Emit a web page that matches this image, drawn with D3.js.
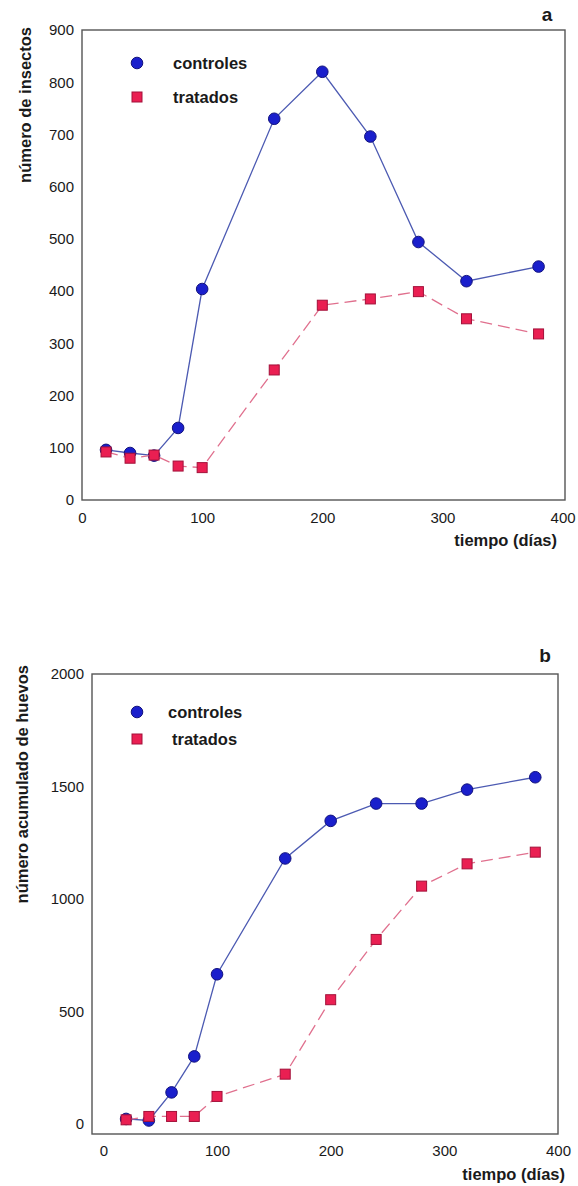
<!DOCTYPE html>
<html>
<head>
<meta charset="utf-8">
<script src="https://cdn.jsdelivr.net/npm/d3@7"></script>
<style>
  body { margin: 0; background: #fff; }
  svg text { font-family: "Liberation Sans", Arial, sans-serif; fill: #1a1a1a; }
</style>
</head>
<body>
<div id="chart"></div>
<script>
// days sampled (same for both panels)
var dias = [20, 40, 60, 80, 100, 160, 200, 240, 280, 320, 380];

// panel a: number of insects
var insectosControles = [96, 90, 85, 138, 404, 730, 820, 696, 494, 419, 447];
var insectosTratados = [92, 80, 86, 65, 62, 249, 373, 385, 399, 347, 318];

// panel b: cumulative number of eggs
var huevosControles = [22, 15, 140, 300, 665, 1180, 1347, 1424, 1424, 1486, 1541];
var huevosTratados = [18, 33, 33, 33, 122, 221, 552, 820, 1057, 1156, 1208];

var xTicks = [0, 100, 200, 300, 400];
var yTicksA = [0, 100, 200, 300, 400, 500, 600, 700, 800, 900];
var yTicksB = [0, 500, 1000, 1500, 2000];

var labelControles = "controles";
var labelTratados = "tratados";

var blueFill = "#1a1fcc", blueStroke = "#12127e", blueLine = "#4c5ab2";
var redFill = "#ea1f52", redStroke = "#a3113a", redLine = "#e0708e";

var svg = d3.select("#chart").append("svg")
    .attr("width", 578)
    .attr("height", 1186);

function drawPanel(opts) {
    var x = d3.scaleLinear().domain(opts.xDomain).range([opts.left, opts.right]);
    var y = d3.scaleLinear().domain(opts.yDomain).range([opts.bottom, opts.top]);
    var g = svg.append("g");

    // frame
    g.append("rect")
        .attr("x", opts.left)
        .attr("y", opts.top)
        .attr("width", opts.right - opts.left)
        .attr("height", opts.bottom - opts.top)
        .attr("fill", "none")
        .attr("stroke", "#555")
        .attr("stroke-width", 1.4);

    var xAxis = g.append("g")
        .attr("transform", "translate(0," + opts.bottom + ")")
        .call(d3.axisBottom(x).tickValues(xTicks).tickFormat(d3.format("d"))
            .tickSize(0).tickPadding(opts.xPad));
    var yAxis = g.append("g")
        .attr("transform", "translate(" + opts.left + ",0)")
        .call(d3.axisLeft(y).tickValues(opts.yTicks).tickFormat(d3.format("d"))
            .tickSize(0).tickPadding(opts.yPad));
    [xAxis, yAxis].forEach(function(a) {
        a.select(".domain").remove();
        a.selectAll("text")
            .style("font-size", "15px")
            .style("font-family", "'Liberation Sans', Arial, sans-serif")
            .attr("fill", "#111");
    });

    var line = d3.line()
        .x(function(d) { return x(d[0]); })
        .y(function(d) { return y(d[1]); });

    var ctrl = d3.zip(dias, opts.controles);
    var trat = d3.zip(dias, opts.tratados);

    g.append("path")
        .datum(ctrl)
        .attr("d", line)
        .attr("fill", "none")
        .attr("stroke", blueLine)
        .attr("stroke-width", 1.3);

    g.selectAll("circle.ctrl")
        .data(ctrl)
        .enter().append("circle")
        .attr("class", "ctrl")
        .attr("cx", function(d) { return x(d[0]); })
        .attr("cy", function(d) { return y(d[1]); })
        .attr("r", 5.8)
        .attr("fill", blueFill)
        .attr("stroke", blueStroke)
        .attr("stroke-width", 1);

    g.append("path")
        .datum(trat)
        .attr("d", line)
        .attr("fill", "none")
        .attr("stroke", redLine)
        .attr("stroke-width", 1.3)
        .attr("stroke-dasharray", "12,6");

    var s = 10;
    g.selectAll("rect.trat")
        .data(trat)
        .enter().append("rect")
        .attr("class", "trat")
        .attr("x", function(d) { return x(d[0]) - s / 2; })
        .attr("y", function(d) { return y(d[1]) - s / 2; })
        .attr("width", s)
        .attr("height", s)
        .attr("fill", redFill)
        .attr("stroke", redStroke)
        .attr("stroke-width", 1);

    // legend
    var lg = opts.legend;
    g.append("circle")
        .attr("cx", lg.x).attr("cy", lg.y1).attr("r", 5.8)
        .attr("fill", blueFill).attr("stroke", blueStroke);
    g.append("text")
        .attr("x", lg.tx1).attr("y", lg.y1 + 6)
        .style("font-size", "16.5px").style("font-weight", "bold")
        .text(labelControles);
    g.append("rect")
        .attr("x", lg.x - s / 2).attr("y", lg.y2 - s / 2)
        .attr("width", s).attr("height", s)
        .attr("fill", redFill).attr("stroke", redStroke);
    g.append("text")
        .attr("x", lg.tx2).attr("y", lg.y2 + 6)
        .style("font-size", "16.5px").style("font-weight", "bold")
        .text(labelTratados);

    // axis titles
    g.append("text")
        .attr("transform", "translate(" + opts.yTitleX + "," + opts.yTitleY + ") rotate(-90)")
        .attr("text-anchor", "end")
        .style("font-size", "16.5px").style("font-weight", "bold")
        .text(opts.yTitle);
    g.append("text")
        .attr("x", opts.xTitleX).attr("y", opts.xTitleY)
        .attr("text-anchor", "end")
        .style("font-size", "16.5px").style("font-weight", "bold")
        .text("tiempo (días)");

    // panel letter
    g.append("text")
        .attr("x", opts.letterX).attr("y", opts.letterY)
        .attr("text-anchor", "middle")
        .style("font-size", "19px").style("font-weight", "bold")
        .text(opts.letter);
}

drawPanel({
    left: 82, right: 565, top: 30, bottom: 500,
    xDomain: [0, 402], yDomain: [0, 900],
    yTicks: yTicksA, xPad: 12, yPad: 8,
    controles: insectosControles, tratados: insectosTratados,
    legend: { x: 137, y1: 63, y2: 97, tx1: 173, tx2: 173 },
    yTitle: "número de insectos", yTitleX: 31, yTitleY: 27,
    xTitleX: 557, xTitleY: 546,
    letter: "a", letterX: 547, letterY: 21
});

drawPanel({
    left: 92, right: 558, top: 674, bottom: 1134,
    xDomain: [-10, 400], yDomain: [-45, 2000],
    yTicks: yTicksB, xPad: 11, yPad: 8,
    controles: huevosControles, tratados: huevosTratados,
    legend: { x: 137, y1: 712, y2: 739, tx1: 168, tx2: 172 },
    yTitle: "número acumulado de huevos", yTitleX: 28, yTitleY: 665,
    xTitleX: 565, xTitleY: 1180,
    letter: "b", letterX: 545, letterY: 662
});
</script>
</body>
</html>
